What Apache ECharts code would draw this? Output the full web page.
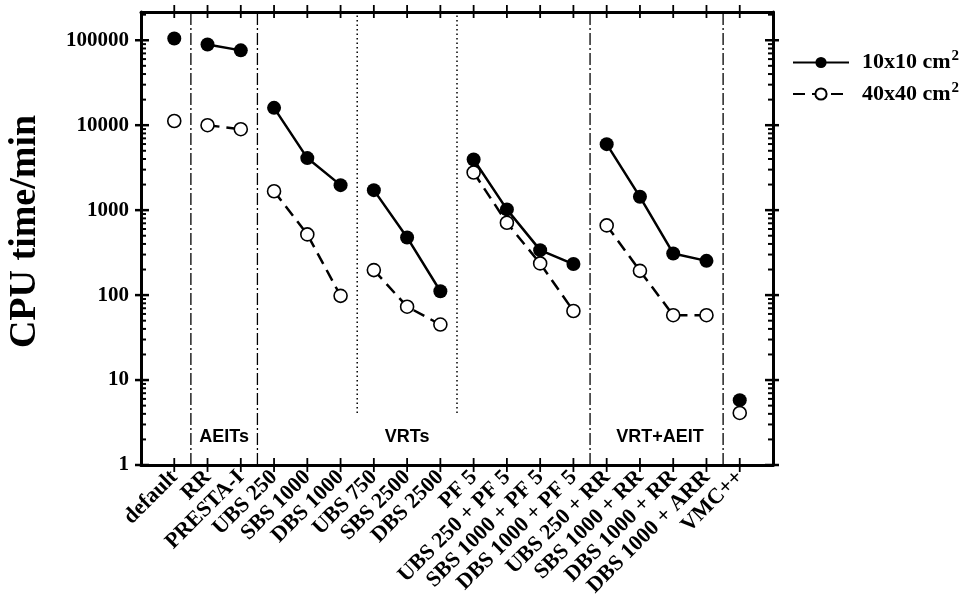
<!DOCTYPE html>
<html>
<head>
<meta charset="utf-8">
<script src="https://cdn.jsdelivr.net/npm/echarts@6/dist/echarts.min.js"></script>
<style>html,body{margin:0;background:#fff}#chart{width:972px;height:603px}</style>
</head>
<body>
<div id="chart"></div>
<script>
var categories = ['default', 'RR', 'PRESTA-I', 'UBS 250', 'SBS 1000', 'DBS 1000', 'UBS 750', 'SBS 2500', 'DBS 2500',
    'PF 5', 'UBS 250 + PF 5', 'SBS 1000 + PF 5', 'DBS 1000 + PF 5',
    'UBS 250 + RR', 'SBS 1000 + RR', 'DBS 1000 + RR', 'DBS 1000 + ARR', 'VMC++'];
var small = [105000, 89000, 76000, 16000, 4100, 1970, 1720, 477, 111, 3950, 1020, 338, 232, 5980, 1435, 309, 253, 5.8];
var large = [11200, 10000, 8970, 1670, 518, 98, 197, 73, 45, 2775, 710, 236, 65, 661, 193, 58, 58, 4.1];
// first and last index of the points joined by one line
var groups = [[0, 0], [1, 2], [3, 5], [6, 8], [9, 12], [13, 16], [17, 17]];
var seriesNames = ['10x10 cm2', '40x40 cm2'];
var sectionLabels = ['AEITs', 'VRTs', 'VRT+AEIT'];
var sectionLabelX = [2.5, 8, 15.6];
var dashDotX = [1.5, 3.5, 13.5, 17.5];
var dottedX = [6.5, 9.5];
var yMajor = [1, 10, 100, 1000, 10000, 100000];
var yMax = 215000;

var serif = '"Liberation Serif", "Times New Roman", serif';
var sans = '"Liberation Sans", Arial, sans-serif';

var yMinor = [];
for (var k = 0; k < 5; k++) {
    for (var m = 2; m <= 9; m++) yMinor.push(m * Math.pow(10, k));
}
yMinor.push(200000);

var chart = echarts.init(document.getElementById('chart'));

function pts(arr, g) {
    var d = [];
    for (var i = g[0]; i <= g[1]; i++) d.push([i + 1, arr[i]]);
    return d;
}

var series = [];
groups.forEach(function (g) {
    series.push({
        name: seriesNames[0], type: 'line', xAxisIndex: 0, yAxisIndex: 0,
        data: pts(small, g), symbol: 'circle', symbolSize: 14,
        itemStyle: {color: '#000'},
        lineStyle: {color: '#000', width: 2.5},
        z: 4, animation: false
    });
    series.push({
        name: seriesNames[1], type: 'line', xAxisIndex: 0, yAxisIndex: 0,
        data: pts(large, g), symbol: 'circle', symbolSize: 13,
        itemStyle: {color: '#fff', borderColor: '#000', borderWidth: 1.6},
        lineStyle: {color: '#000', width: 2.5, type: [12, 7]},
        z: 3, animation: false
    });
});

// section dividers
series.push({
    type: 'custom', xAxisIndex: 0, yAxisIndex: 0, silent: true, animation: false, z: 1,
    data: dashDotX.map(function (x) { return [x, 1, 0]; }).concat(dottedX.map(function (x) { return [x, 4.1, 1]; })),
    renderItem: function (params, api) {
        var p0 = api.coord([api.value(0), api.value(1)]);
        var p1 = api.coord([api.value(0), yMax]);
        var dotted = api.value(2) === 1;
        return {
            type: 'line',
            shape: {x1: p0[0], y1: p0[1], x2: p1[0], y2: p1[1]},
            style: {stroke: '#000', lineWidth: dotted ? 1.5 : 1.3, lineDash: dotted ? [1.5, 3] : [12, 3, 2, 3]}
        };
    }
});

// section labels
series.push({
    type: 'custom', xAxisIndex: 0, yAxisIndex: 0, silent: true, animation: false,
    data: sectionLabelX.map(function (x, i) { return [x, 2.15, i]; }),
    renderItem: function (params, api) {
        var p = api.coord([api.value(0), api.value(1)]);
        return {
            type: 'text', x: p[0], y: p[1],
            style: {text: sectionLabels[api.value(2)], fill: '#000', font: 'bold 18px ' + sans, align: 'center', verticalAlign: 'middle'}
        };
    }
});

// y ticks on both sides (major cross the frame, minor inside)
series.push({
    type: 'custom', xAxisIndex: 0, yAxisIndex: 0, silent: true, animation: false, z: 5,
    data: yMajor.map(function (v) { return [0, v, 1]; }).concat(yMinor.map(function (v) { return [0, v, 0]; })),
    renderItem: function (params, api) {
        var l = api.coord([0, api.value(1)]);
        var r = api.coord([19, api.value(1)]);
        var major = api.value(2) === 1;
        var out = major ? 6 : 0, inn = major ? 8 : 5;
        var st = {stroke: '#000', lineWidth: major ? 2.5 : 2};
        return {
            type: 'group', children: [
                {type: 'line', shape: {x1: l[0] - out, y1: l[1], x2: l[0] + inn, y2: l[1]}, style: st},
                {type: 'line', shape: {x1: r[0] + out, y1: r[1], x2: r[0] - inn, y2: r[1]}, style: st}
            ]
        };
    }
});

// x ticks on bottom and top
series.push({
    type: 'custom', xAxisIndex: 0, yAxisIndex: 0, silent: true, animation: false, z: 5,
    data: categories.map(function (c, i) { return [i + 1, 1]; }),
    renderItem: function (params, api) {
        var b = api.coord([api.value(0), 1]);
        var t = api.coord([api.value(0), yMax]);
        var st = {stroke: '#000', lineWidth: 1.8};
        return {
            type: 'group', children: [
                {type: 'line', shape: {x1: b[0], y1: b[1] + 7, x2: b[0], y2: b[1] - 7}, style: st},
                {type: 'line', shape: {x1: t[0], y1: t[1] - 7, x2: t[0], y2: t[1] + 6}, style: st}
            ]
        };
    }
});

var axisLine = {show: true, onZero: false, lineStyle: {color: '#000', width: 3}};

var option = {
    backgroundColor: '#fff',
    animation: false,
    grid: {left: 141, right: 199, top: 12, bottom: 138, containLabel: false, outerBoundsMode: 'none'},
    legend: {
        orient: 'vertical', left: 787, top: 44, itemWidth: 56, itemHeight: 14, itemGap: 7,
        data: seriesNames,
        formatter: function (name) { return name.slice(0, -1) + '{sup|2}'; },
        textStyle: {
            fontFamily: serif, fontWeight: 'bold', fontSize: 22, color: '#000', padding: [0, 0, 0, 8],
            rich: {sup: {fontFamily: serif, fontWeight: 'bold', fontSize: 15, color: '#000', padding: [0, 0, 12, 1]}}
        }
    },
    xAxis: [{
        type: 'value', min: 0, max: 19, interval: 1, position: 'bottom',
        axisLine: axisLine, axisTick: {show: false}, splitLine: {show: false},
        axisLabel: {
            rotate: 45, margin: 9, fontFamily: serif, fontWeight: 'bold', fontSize: 22, color: '#000',
            showMinLabel: false, showMaxLabel: false,
            formatter: function (v) { return categories[v - 1] || ''; }
        }
    }, {
        type: 'value', min: 0, max: 19, interval: 1, position: 'top',
        axisLine: axisLine, axisTick: {show: false}, axisLabel: {show: false}, splitLine: {show: false}
    }],
    yAxis: [{
        type: 'log', logBase: 10, min: 1, max: yMax, position: 'left',
        axisLine: axisLine, axisTick: {show: false}, splitLine: {show: false},
        axisLabel: {
            margin: 12, fontFamily: serif, fontWeight: 'bold', fontSize: 21, color: '#000',
            formatter: function (v) { return yMajor.indexOf(Math.round(v)) >= 0 ? String(Math.round(v)) : ''; }
        },
        name: 'CPU time/min', nameLocation: 'middle', nameGap: 97,
        nameTextStyle: {fontFamily: serif, fontWeight: 'bold', fontSize: 38, color: '#000', padding: [0, 0, 0, 14]}
    }, {
        type: 'log', logBase: 10, min: 1, max: yMax, position: 'right',
        axisLine: axisLine, axisTick: {show: false}, axisLabel: {show: false}, splitLine: {show: false}
    }],
    series: series
};
chart.setOption(option);
</script>
</body>
</html>
